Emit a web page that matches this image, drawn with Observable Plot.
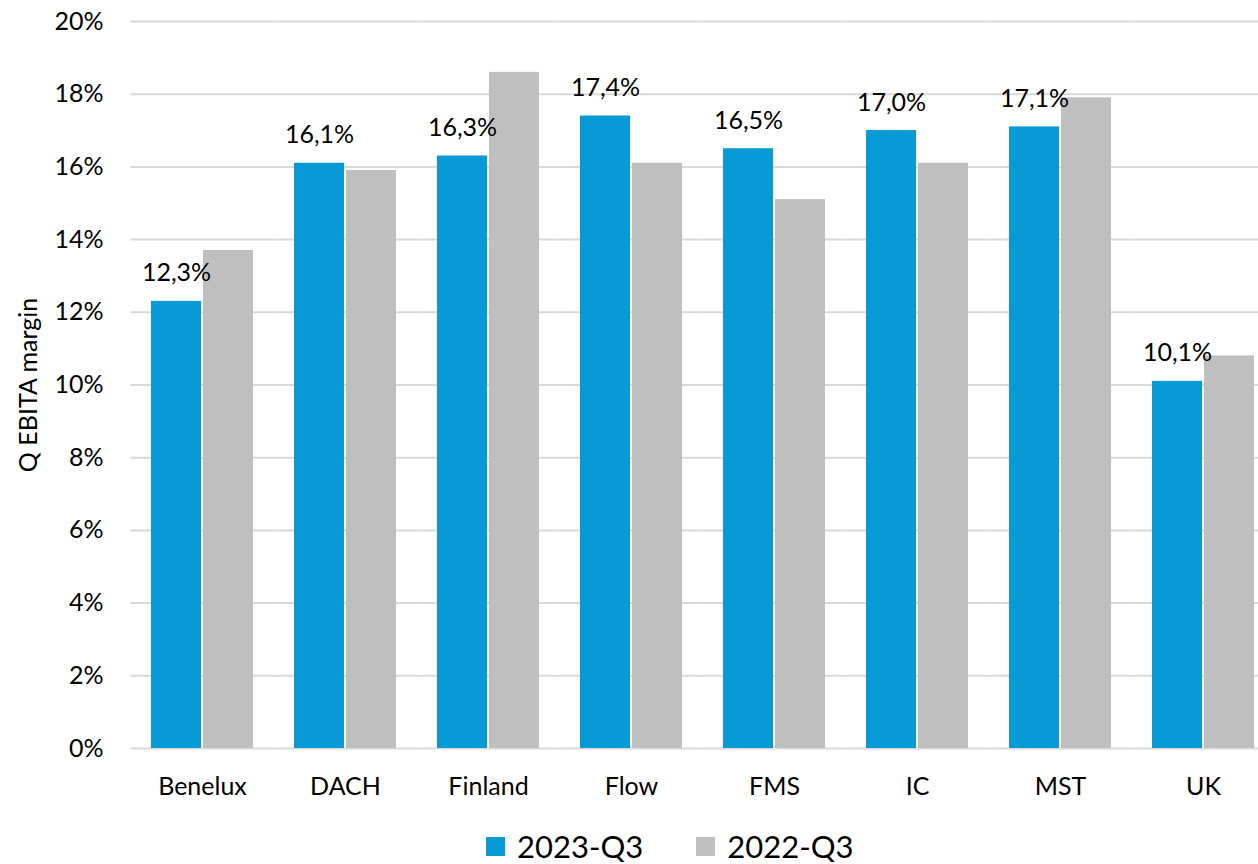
<!DOCTYPE html>
<html>
<head>
<meta charset="utf-8">
<script src="https://cdn.jsdelivr.net/npm/d3@7"></script>
<script src="https://cdn.jsdelivr.net/npm/@observablehq/plot@0.6"></script>
<style>
  html, body { margin: 0; padding: 0; background: #fff; overflow: hidden; }
  #chart svg { overflow: hidden; }
  .legend { display: flex; align-items: center; font-family: Lato, sans-serif; font-size: 31px; line-height: 31px; color: #000; margin-top: 11px; padding-left: 486px; }
  .legend .item { display: flex; align-items: center; }
  .legend .sw { display: inline-block; width: 19px; height: 19px; margin-right: 12px; }
</style>
</head>
<body>
<div id="chart"></div>
<div id="legend" class="legend"></div>
<script>
const categories = ["Benelux", "DACH", "Finland", "Flow", "FMS", "IC", "MST", "UK"];
const seriesNames = ["2023-Q3", "2022-Q3"];
const values2023 = [12.3, 16.1, 16.3, 17.4, 16.5, 17.0, 17.1, 10.1];
const values2022 = [13.7, 15.9, 18.6, 16.1, 15.1, 16.1, 17.9, 10.8];
const seriesColors = ["#0899d7", "#bfbfbf"];
const yTicks = [0, 2, 4, 6, 8, 10, 12, 14, 16, 18, 20];
const yLabel = "Q EBITA margin";

const data = categories.flatMap((c, i) => [
  {category: c, series: seriesNames[0], value: values2023[i]},
  {category: c, series: seriesNames[1], value: values2022[i]}
]);

const fmt = v => v.toFixed(1).replace(".", ",") + "%";

const chart = Plot.plot({
  width: 1258,
  height: 820,
  marginTop: 21,
  marginBottom: 72,
  marginLeft: 131,
  marginRight: -16,
  style: {fontFamily: "Lato, sans-serif", fontSize: "25px", color: "#000", background: "#fff"},
  fx: {domain: categories, paddingInner: 0.273, paddingOuter: 0.133, label: null, axis: "bottom", tickSize: 0, tickPadding: 29},
  x: {domain: seriesNames, padding: 0, axis: null},
  y: {domain: [0, 20], ticks: yTicks, tickFormat: d => d + "%", tickSize: 0, tickPadding: 47,
      label: yLabel, labelAnchor: "center", labelArrow: "none", labelOffset: 131},
  color: {domain: seriesNames, range: seriesColors},
  marks: [
    Plot.ruleY(yTicks, {stroke: "#d9d9d9", strokeWidth: 2, insetLeft: -19.5, insetRight: -19.5}),
    Plot.barY(data, {fx: "category", x: "series", y: "value", fill: "series", insetLeft: 1, insetRight: 1}),
    Plot.text(data.filter(d => d.series === seriesNames[0]), {
      fx: "category", x: "series", y: "value", text: d => fmt(d.value),
      lineAnchor: "bottom", dy: -20, fill: "#000", fontSize: 25
    })
  ]
});
document.getElementById("chart").appendChild(chart);

const color = chart.scale("color");
const legend = document.getElementById("legend");
seriesNames.forEach((s, i) => {
  const item = document.createElement("div");
  item.className = "item";
  if (i > 0) item.style.marginLeft = "53px";
  const sw = document.createElement("span");
  sw.className = "sw";
  sw.style.background = color.apply(s);
  const t = document.createElement("span");
  t.textContent = s;
  item.appendChild(sw);
  item.appendChild(t);
  legend.appendChild(item);
});
</script>
</body>
</html>
